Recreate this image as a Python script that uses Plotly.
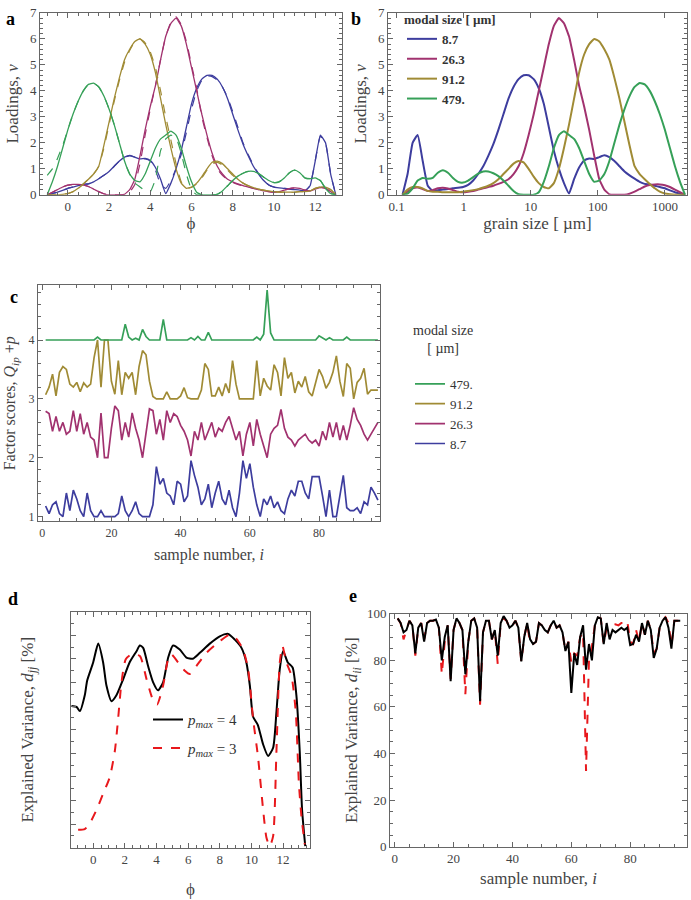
import plotly.graph_objects as go

# ---------------- data ----------------
# panel a / b : loadings on the phi grid
PHI = [-1, -0.75, -0.5, -0.25, 0, 0.25, 0.5, 0.75, 1, 1.25, 1.5, 1.75, 2, 2.25, 2.5, 2.75,
       3, 3.25, 3.5, 3.75, 4, 4.25, 4.5, 4.75, 5, 5.25, 5.5, 5.75, 6, 6.25, 6.5, 6.75,
       7, 7.25, 7.5, 7.75, 8, 8.25, 8.5, 8.75, 9, 9.25, 9.5, 9.75, 10, 10.25, 10.5, 10.75,
       11, 11.25, 11.5, 11.75, 12, 12.25, 12.5, 12.75, 13]

LOAD_8_7 = [0, 0.05, 0.1, 0.17, 0.25, 0.3, 0.35, 0.4, 0.42, 0.5, 0.62, 0.75, 0.9, 1.1, 1.3, 1.45,
            1.52, 1.45, 1.38, 1.4, 1.32, 1.05, 0.6, 0.05, 0.45, 1.0, 1.7, 2.6, 3.5, 4.1, 4.45, 4.6,
            4.6, 4.45, 4.15, 3.7, 3.1, 2.5, 1.95, 1.5, 1.1, 0.8, 0.55, 0.38, 0.3, 0.27, 0.25, 0.22,
            0.2, 0.18, 0.15, 0.35, 1.3, 2.3, 2.0, 0.8, 0]
LOAD_26_3 = [0, 0.1, 0.2, 0.3, 0.37, 0.4, 0.4, 0.38, 0.32, 0.22, 0.12, 0.04, 0, 0, 0, 0.02,
             0.2, 0.6, 1.5, 2.5, 3.4, 4.2, 5.2, 6.1, 6.6, 6.8, 6.5, 5.8, 4.9, 4.0, 3.1, 2.3,
             1.6, 1.1, 0.8, 0.6, 0.5, 0.42, 0.35, 0.3, 0.25, 0.2, 0.15, 0.12, 0.1, 0.12, 0.18, 0.24,
             0.27, 0.25, 0.18, 0.15, 0.22, 0.28, 0.25, 0.12, 0]
LOAD_91_2 = [0, 0, 0, 0.02, 0.05, 0.12, 0.25, 0.42, 0.6, 0.8, 1.1, 1.9, 2.8, 3.7, 4.5, 5.2,
             5.6, 5.9, 6.0, 5.8, 5.4, 4.7, 3.7, 2.7, 1.8, 1.0, 0.45, 0.25, 0.3, 0.45, 0.7, 1.0,
             1.25, 1.3, 1.2, 1.0, 0.8, 0.6, 0.45, 0.35, 0.28, 0.22, 0.18, 0.15, 0.12, 0.1, 0.1, 0.1,
             0.1, 0.12, 0.12, 0.15, 0.25, 0.3, 0.3, 0.2, 0]
LOAD_479 = [0, 0.5, 1.1, 1.8, 2.5, 3.1, 3.6, 4.0, 4.25, 4.3, 4.15, 3.8, 3.3, 2.7, 2.0, 1.3,
            0.8, 0.55, 0.5, 0.8, 1.3, 1.8, 2.15, 2.3, 2.45, 2.3, 1.8, 1.1, 0.5, 0.1, 0, 0,
            0, 0.02, 0.15, 0.35, 0.55, 0.72, 0.83, 0.9, 0.9, 0.82, 0.68, 0.55, 0.47, 0.5, 0.65, 0.85,
            0.95, 0.85, 0.65, 0.62, 0.65, 0.55, 0.25, 0.05, 0]

# dashed (alternative solution) loadings in panel a
LOAD_8_7_D = [0, 0.05, 0.1, 0.17, 0.25, 0.3, 0.35, 0.4, 0.42, 0.5, 0.62, 0.75, 0.9, 1.1, 1.3, 1.45,
              1.5, 1.45, 1.38, 1.38, 1.3, 0.95, 0.4, 0.25, 0.55, 1.0, 1.55, 2.4, 3.3, 4.0, 4.4, 4.58,
              4.55, 4.42, 4.15, 3.75, 3.2, 2.6, 2.0, 1.55, 1.15, 0.82, 0.56, 0.38, 0.3, 0.27, 0.25, 0.22,
              0.2, 0.18, 0.15, 0.35, 1.3, 2.25, 2.0, 0.8, 0]
LOAD_26_3_D = [0, 0.1, 0.2, 0.3, 0.37, 0.4, 0.4, 0.38, 0.32, 0.22, 0.12, 0.04, 0, 0, 0, 0,
               0.1, 0.4, 1.2, 2.3, 3.3, 4.2, 5.2, 6.1, 6.65, 6.85, 6.55, 5.9, 5.0, 4.1, 3.0, 2.2,
               1.5, 1.0, 0.75, 0.58, 0.48, 0.4, 0.34, 0.3, 0.25, 0.2, 0.15, 0.12, 0.1, 0.12, 0.18, 0.24,
               0.27, 0.25, 0.18, 0.15, 0.22, 0.28, 0.25, 0.12, 0]
LOAD_91_2_D = [0, 0, 0, 0.02, 0.05, 0.12, 0.25, 0.42, 0.6, 0.8, 1.1, 1.8, 2.7, 3.6, 4.4, 5.1,
               5.55, 5.9, 6.0, 5.85, 5.5, 4.9, 4.0, 3.0, 2.1, 1.2, 0.5, 0.25, 0.28, 0.42, 0.65, 0.95,
               1.2, 1.25, 1.15, 0.95, 0.75, 0.58, 0.45, 0.35, 0.28, 0.22, 0.18, 0.15, 0.12, 0.1, 0.1, 0.1,
               0.1, 0.12, 0.12, 0.15, 0.25, 0.3, 0.3, 0.2, 0]
LOAD_479_D = [0.75, 1.0, 1.4, 1.9, 2.5, 3.1, 3.6, 4.0, 4.25, 4.3, 4.15, 3.8, 3.3, 2.7, 2.0, 1.3,
              0.8, 0.45, 0.3, 0.15, 0.12, 0.6, 1.7, 2.15, 2.3, 2.2, 1.6, 0.8, 0.2, 0, 0, 0,
              0, 0.02, 0.15, 0.35, 0.55, 0.72, 0.83, 0.9, 0.9, 0.82, 0.68, 0.55, 0.47, 0.5, 0.65, 0.85,
              0.95, 0.85, 0.65, 0.62, 0.65, 0.55, 0.25, 0.05, 0]

MODAL_SIZES = ["8.7", "26.3", "91.2", "479."]

# panel c : factor scores + offset p, samples 1..97
SAMPLES = list(range(1, 98))
SCORE_8_7 = [1.18, 1.05, 1.2, 1.25, 1.05, 1.0, 1.4, 1.1, 1.45, 1.3,
             1.1, 1.0, 1.4, 1.1, 1.0, 1.0, 1.1, 1.0, 1.0, 1.0,
             1.0, 1.05, 1.35, 1.1, 1.0, 1.1, 1.25, 1.05, 1.0, 1.0,
             1.0, 1.2, 1.85, 1.55, 1.65, 1.4, 1.35, 1.2, 1.6, 1.55,
             1.25, 1.35, 1.95, 1.7, 1.5, 1.2, 1.3, 1.55, 1.15, 1.4,
             1.6, 1.3, 1.2, 1.45, 1.15, 1.0, 1.4, 1.95, 1.65, 1.9,
             1.5, 1.2, 1.0, 1.3, 1.2, 1.35, 1.15, 1.25, 1.1, 1.05,
             1.3, 1.45, 1.35, 1.6, 1.6, 1.4, 1.3, 1.68, 1.68, 1.68,
             1.35, 1.0, 1.45, 1.0, 1.0, 1.35, 1.7, 1.15, 1.1, 1.1,
             1.15, 1.05, 1.25, 1.2, 1.5, 1.4, 1.28]
SCORE_26_3 = [2.79, 2.75, 2.45, 2.7, 2.45, 2.6, 2.4, 2.45, 2.8, 2.45,
              2.75, 2.4, 2.6, 2.35, 2.3, 2.0, 2.76, 2.0, 2.0, 2.5,
              2.88, 2.8, 2.3, 2.6, 2.35, 2.76, 2.5, 2.3, 2.0, 2.45,
              2.83, 2.8, 2.4, 2.65, 2.3, 2.8, 2.6, 2.75, 2.7, 2.55,
              2.45, 2.3, 2.03, 2.45, 2.3, 2.6, 2.3, 2.45, 2.6, 2.35,
              2.5, 2.45, 2.6, 2.7, 2.5, 2.3, 2.45, 2.03, 2.4, 2.6,
              2.2, 2.65, 2.4, 2.2, 2.0, 2.4, 2.5, 2.55, 2.82, 2.5,
              2.35, 2.3, 2.2, 2.3, 2.35, 2.4, 2.3, 2.25, 2.3, 2.2,
              2.45, 2.3, 2.6, 2.35, 2.6, 2.3, 2.55, 2.3, 2.55, 2.85,
              2.65, 2.55, 2.4, 2.3, 2.4, 2.5, 2.6]
SCORE_91_2 = [3.07, 3.2, 3.42, 3.05, 3.45, 3.55, 3.5, 3.25, 3.2, 3.28,
              3.12, 3.27, 3.2, 3.25, 3.7, 4.0, 3.2, 4.0, 4.0, 3.3,
              3.08, 3.65, 3.07, 3.45, 3.35, 3.45, 3.07, 3.55, 3.82, 3.75,
              3.3, 3.04, 3.0, 3.0, 3.0, 3.12, 3.0, 3.0, 3.0, 3.05,
              3.19, 3.02, 3.0, 3.0, 3.0, 3.15, 3.6, 3.5, 3.05, 3.05,
              3.2, 3.05, 3.26, 3.1, 3.65, 3.25, 3.0, 3.0, 3.0, 3.0,
              3.0, 3.65, 3.05, 3.35, 3.22, 3.15, 3.58, 3.45, 3.05, 3.7,
              3.35, 3.45, 3.1, 3.3, 3.2, 3.38, 3.12, 3.05, 3.3, 3.5,
              3.38, 3.18, 3.28, 3.45, 3.73, 3.3, 3.04, 3.6, 3.52, 3.0,
              3.28, 3.35, 3.52, 3.08, 3.15, 3.15, 3.15]
SCORE_479 = [4, 4, 4, 4, 4, 4, 4, 4, 4, 4,
             4, 4, 4, 4, 4, 4.05, 4, 4, 4, 4,
             4, 4, 4, 4.27, 4.05, 4, 4.03, 4, 4.18, 4.06,
             4, 4, 4, 4, 4.35, 4, 4, 4, 4, 4,
             4, 4, 4.04, 4, 4.06, 4, 4, 4.13, 4, 4,
             4, 4, 4, 4, 4, 4, 4, 4, 4, 4,
             4, 4.05, 4, 4.1, 4.85, 4.12, 4, 4, 4, 4,
             4, 4, 4, 4, 4, 4, 4, 4, 4, 4.07,
             4.03, 4, 4.04, 4, 4, 4, 4, 4.05, 4, 4,
             4, 4, 4, 4, 4, 4, 4]

# panel d : explained variance vs phi
D_PHI_P4 = [-1.37, -1.05, -0.84, -0.53, -0.38, 0.0, 0.32, 0.63, 0.84, 1.16, 1.47, 1.9, 2.3, 2.74,
            2.95, 3.16, 3.47, 3.79, 4.1, 4.42, 4.74, 5.05, 5.47, 5.89, 6.3, 6.74, 7.37, 8.0, 8.53,
            8.95, 9.37, 9.68, 9.9, 10.1, 10.4, 10.74, 11.05, 11.37, 11.58, 11.79, 12.0, 12.3, 12.6,
            12.84, 13.05, 13.2, 13.4]
D_VAR_P4 = [60.1, 59.7, 57.9, 64.6, 70.8, 78.5, 86.5, 78.5, 68.75, 62.1, 64.6, 71.5, 78.5, 83.3,
            85.7, 84.7, 77, 70.1, 66.7, 70.1, 80.6, 85.7, 84, 80.6, 80.1, 82.6, 86.5, 89.6, 90.6,
            88.2, 84.7, 78.5, 68.75, 55.6, 52.1, 43.75, 38.9, 42.4, 57.6, 75.7, 83.3, 78.5, 76.4,
            64.6, 41, 16, 0.7]
D_PHI_P3 = [-0.95, -0.53, -0.21, 0.21, 0.63, 1.05, 1.37, 1.58, 1.79, 2.06, 2.42, 2.95, 3.37, 3.75,
            4.04, 4.42, 4.74, 4.95, 5.37, 5.79, 6.1, 6.53, 7.16, 8.0, 8.63, 9.05, 9.47, 9.79, 10.1,
            10.42, 10.74, 10.95, 11.16, 11.37, 11.58, 11.79, 11.96, 12.21, 12.53, 12.8, 13.0, 13.16,
            13.37]
D_VAR_P3 = [7.6, 7.9, 10.4, 16, 22.9, 29.9, 41, 54.9, 70.1, 79.9, 81.9, 81.25, 71.5, 63.2,
            60.7, 68.75, 79.9, 81.9, 78.5, 75, 73.6, 77.1, 82.6, 87.5, 90.3, 88.5, 84, 75.7, 54.9,
            38.2, 16, 4.2, 0.7, 4.9, 41, 78.5, 85.4, 78.5, 72.9, 57.6, 27, 13.2, 1.4]

# panel e : explained variance per sample
E_VAR_P4 = [98, 96, 92, 93, 97, 95, 83, 94, 96, 88,
            96, 97, 97, 97.5, 94, 80, 90, 95, 71, 93,
            98, 96, 93, 74, 88, 97, 98, 94, 62.5, 92,
            97, 97, 89, 93, 82, 96, 99, 97, 94, 95,
            97, 94, 79.5, 90, 96, 89, 87, 88, 96, 95,
            93, 92, 95, 97, 94, 95, 92, 84, 88, 66,
            83, 78, 90, 95, 76, 87, 80, 95, 98.5, 98,
            87, 96, 89, 93, 92, 93, 94, 93, 94, 86.5,
            87, 91, 88, 96, 91, 97, 93, 81, 85, 94,
            97, 98.5, 94, 85, 97, 97, 97]
E_VAR_P3 = [98, 96, 89, 93, 97, 95, 82, 94, 96, 89,
            96, 97, 97, 97.5, 94, 74, 88, 95, 72, 93,
            98, 96, 93, 65.5, 88, 97, 98, 94, 61, 92,
            97, 97, 89, 93, 78.5, 96, 98, 97, 94, 95,
            97, 94, 79.5, 90, 96, 87, 87, 88, 96, 95,
            93, 92, 95, 97, 94, 95, 92, 84, 88, 79,
            83, 82, 90, 92, 32.5, 80, 86, 95, 98.5, 98,
            87, 94, 95, 95, 95.5, 95, 96, 96, 97, 88,
            87, 93, 88, 96, 91, 97, 93, 83, 85, 94,
            97, 98.5, 96, 86, 97, 97, 97]

# ---------------- styling ----------------
FONT = "Liberation Serif, Times New Roman, serif"
COLORS = ["#3d3d9e", "#a1326f", "#a08b35", "#36a058"]
AX_COL = "#666666"
TXT_COL = "#444444"

SIZE_UM = [1000 * 2 ** (-p) for p in PHI]   # phi -> grain size in micrometres

fig = go.Figure()

loads = [LOAD_8_7, LOAD_26_3, LOAD_91_2, LOAD_479]
loads_d = [LOAD_8_7_D, LOAD_26_3_D, LOAD_91_2_D, LOAD_479_D]

# panel a
for sol, dsh, col in zip(loads, loads_d, COLORS):
    fig.add_trace(go.Scatter(x=PHI, y=dsh, mode="lines", xaxis="x", yaxis="y",
                             line=dict(color=col, width=1.2, dash="dash", shape="spline", smoothing=0.4),
                             showlegend=False, hoverinfo="skip"))
    fig.add_trace(go.Scatter(x=PHI, y=sol, mode="lines", xaxis="x", yaxis="y",
                             line=dict(color=col, width=1.3, shape="spline", smoothing=0.4),
                             showlegend=False))

# panel b
for sol, col, name in zip(loads, COLORS, MODAL_SIZES):
    fig.add_trace(go.Scatter(x=SIZE_UM, y=sol, mode="lines", xaxis="x2", yaxis="y2",
                             line=dict(color=col, width=2, shape="spline", smoothing=0.4),
                             name=name, legend="legend", showlegend=True))

# panel c
scores = [SCORE_8_7, SCORE_26_3, SCORE_91_2, SCORE_479]
for k, (sc, col, name) in enumerate(zip(scores, COLORS, MODAL_SIZES)):
    fig.add_trace(go.Scatter(x=SAMPLES, y=sc, mode="lines", xaxis="x3", yaxis="y3",
                             line=dict(color=col, width=1.7),
                             name=name, legend="legend2", legendgroup="c%d" % k, showlegend=True))

# panel d
fig.add_trace(go.Scatter(x=D_PHI_P4, y=D_VAR_P4, mode="lines", xaxis="x4", yaxis="y4",
                         line=dict(color="black", width=2, shape="spline", smoothing=0.6),
                         name="<i>p</i><sub><i>max</i></sub> = 4", legend="legend3",
                         legendgroup="g4"))
fig.add_trace(go.Scatter(x=D_PHI_P3, y=D_VAR_P3, mode="lines", xaxis="x4", yaxis="y4",
                         line=dict(color="#e8181c", width=2, dash="dash", shape="spline", smoothing=0.6),
                         name="<i>p</i><sub><i>max</i></sub> = 3", legend="legend3",
                         legendgroup="g3"))

# panel e
fig.add_trace(go.Scatter(x=SAMPLES, y=E_VAR_P3, mode="lines", xaxis="x5", yaxis="y5",
                         line=dict(color="#e8181c", width=2, dash="dash"), showlegend=False))
fig.add_trace(go.Scatter(x=SAMPLES, y=E_VAR_P4, mode="lines", xaxis="x5", yaxis="y5",
                         line=dict(color="black", width=2), showlegend=False))


def axis(domain, anchor, minor_dtick=None, tsize=13, **kw):
    d = dict(domain=domain, anchor=anchor, showline=True, linecolor=AX_COL, linewidth=1,
             mirror="allticks", ticks="inside", ticklen=5, tickwidth=1, tickcolor=AX_COL,
             showgrid=False, zeroline=False,
             tickfont=dict(family=FONT, size=tsize, color=TXT_COL))
    if minor_dtick is not None:
        d["minor"] = dict(ticks="inside", ticklen=3, tickwidth=1, tickcolor=AX_COL,
                          dtick=minor_dtick, showgrid=False)
    d.update(kw)
    return d


def ttl(text, standoff, size=17):
    return dict(text=text, standoff=standoff, font=dict(family=FONT, size=size, color=TXT_COL))


W, H = 691, 900
def dx(a, b):
    return [a / W, b / W]
def dy(top, bot):
    return [1 - bot / H, 1 - top / H]

def label(txt, x, y):
    return dict(text="<b>%s</b>" % txt, x=x / W, y=1 - y / H, xref="paper", yref="paper",
                xanchor="left", yanchor="top", showarrow=False,
                font=dict(family=FONT, size=18, color="black"))

fig.update_layout(
    width=W, height=H, margin=dict(l=0, r=0, t=0, b=0),
    paper_bgcolor="white", plot_bgcolor="white", showlegend=True,
    # panel a
    xaxis=axis(dx(40, 342), "y", 0.5, range=[-1.35, 13.3], tickvals=[0, 2, 4, 6, 8, 10, 12],
               title=ttl("ϕ", 0)),
    yaxis=axis(dy(6, 191), "x", 0.2, range=[0, 7], dtick=1, title=ttl("Loadings, <i>ν</i>", 6)),
    # panel b
    xaxis2=axis(dx(388, 687), "y2", None, type="log", range=[-1.13, 3.33],
                tickvals=[0.1, 1, 10, 100, 1000], ticktext=["0.1", "1", "10", "100", "1000"],
                title=ttl("grain size [ µm]", 0)),
    yaxis2=axis(dy(6, 191), "x2", 0.2, range=[0, 7], dtick=1, title=ttl("Loadings, <i>ν</i>", 6)),
    # panel c
    xaxis3=axis(dx(38, 380), "y3", 5, tsize=12, range=[-1.2, 97.6], tickvals=[0, 20, 40, 60, 80],
                title=ttl("sample number, <i>i</i>", 10, 16)),
    yaxis3=axis(dy(283, 523), "x3", 0.2, tsize=12, range=[0.92, 4.93], tickvals=[1, 2, 3, 4],
                title=ttl("Factor scores, <i>Q</i><sub><i>ip</i></sub> +<i>p</i>", 8, 16)),
    # panel d
    xaxis4=axis(dx(71, 310), "y4", 0.5, range=[-1.4, 13.7], tickvals=[0, 2, 4, 6, 8, 10, 12],
                title=ttl("ϕ", 16)),
    yaxis4=axis(dy(615, 855), "x4", 5, range=[0, 100], dtick=10, showticklabels=False,
                title=ttl("Explained Variance, <i>d</i><sub><i>jj</i></sub> [%]", 32)),
    # panel e
    xaxis5=axis(dx(390, 687), "y5", 5, range=[-1.6, 99.3], tickvals=[0, 20, 40, 60, 80],
                title=ttl("sample number, <i>i</i>", 6)),
    yaxis5=axis(dy(617, 854), "x5", 5, range=[0, 100], dtick=20,
                title=ttl("Explained Variance, <i>d</i><sub><i>ii</i></sub> [%]", 4)),
    legend=dict(x=402 / W, y=1.0, xanchor="left", yanchor="top", bgcolor="rgba(0,0,0,0)",
                font=dict(family=FONT, size=13, color="#333", weight="bold"),
                title=dict(text="modal size [ µm]",
                           font=dict(family=FONT, size=13, color="#333", weight="bold")),
                itemwidth=30, tracegroupgap=0),
    legend2=dict(x=410 / W, y=1 - 368 / H, xanchor="left", yanchor="top", bgcolor="rgba(0,0,0,0)",
                 traceorder="reversed", tracegroupgap=3,
                 font=dict(family=FONT, size=13, color="#333"), itemwidth=30),
    legend3=dict(x=148 / W, y=1 - 708 / H, xanchor="left", yanchor="top", bgcolor="rgba(0,0,0,0)",
                 font=dict(family=FONT, size=15, color="#333"), tracegroupgap=6, itemwidth=30),
    annotations=[
        label("a", 4, 0), label("b", 349, 0), label("c", 8, 283),
        label("d", 6, 590), label("e", 347, 587),
        dict(text="modal size<br>[ µm]", x=443 / W, y=1 - 338 / H, xref="paper", yref="paper",
             xanchor="center", yanchor="middle", showarrow=False, align="center",
             font=dict(family=FONT, size=14, color="#333")),
    ],
)

fig.write_html("out.html", config={"displayModeBar": False},
               post_script="document.body.style.margin='0';document.body.style.overflow='hidden';")
